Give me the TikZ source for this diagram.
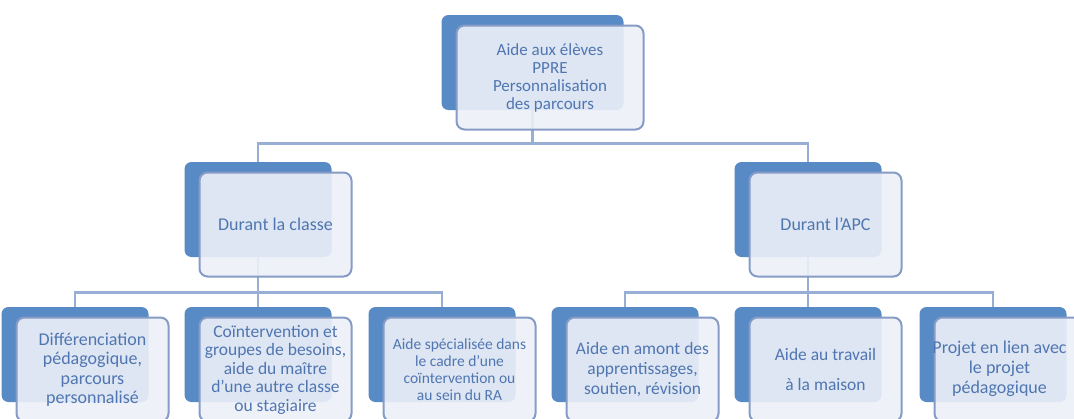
\documentclass[tikz,border=0pt]{standalone}
\usepackage{fontspec}
\setmainfont{Carlito}
\usepackage{tikz}
\usetikzlibrary{backgrounds}
\definecolor{backblue}{RGB}{88,138,198}
\definecolor{frontfill}{RGB}{236,240,247}
\definecolor{frontline}{RGB}{134,155,198}
\definecolor{linkblue}{RGB}{152,174,212}
\definecolor{textblue}{RGB}{80,118,178}
\tikzset{
  backbox/.style={fill=backblue, rounded corners=7pt, inner sep=0pt, minimum height=95pt},
  frontbox/.style={draw=frontline, line width=2pt, fill=frontfill, fill opacity=0.9,
    text opacity=1, text=textblue, rounded corners=8pt, inner sep=1pt, align=center,
    minimum height=104pt},
  link/.style={draw=linkblue, line width=2.6pt}
}
% #1 name, #2 x, #3 y, #4 width, #5 font size, #6 text
\newcommand{\stackbox}[6]{
  \node[backbox, minimum width=#4pt] (#1b) at (#2,#3) {};
  \node[frontbox, minimum width=#4pt+5pt, font=#5] (#1) at ([shift={(17.5,15)}]#1b.center) {#6};
}

\begin{document}
\begin{tikzpicture}[x=1pt,y=-1pt]
\useasboundingbox (0,0) rectangle (1074,418);

\stackbox{top}{532.5}{62.5}{182}{\fontsize{17}{18}\selectfont}{Aide aux élèves\\PPRE\\Personnalisation\\des parcours}

\stackbox{classe}{258}{209.5}{147}{\fontsize{18}{18}\selectfont}{Durant la classe}
\stackbox{apc}{808}{209.5}{147}{\fontsize{18}{18}\selectfont}{Durant l'APC}

\stackbox{diff}{75}{354.5}{147}{\fontsize{18}{19.5}\selectfont}{Différenciation\\pédagogique,\\parcours\\personnalisé}
\stackbox{coint}{258}{354.5}{147}{\fontsize{17.5}{18.5}\selectfont}{Coïntervention et\\groupes de besoins,\\aide du maître\\d'une autre classe\\ou stagiaire}
\stackbox{spec}{442}{354.5}{147}{\fontsize{15.5}{17}\selectfont}{Aide spécialisée dans\\le cadre d'une\\coïntervention ou\\au sein du RA}
\stackbox{amont}{625}{354.5}{147}{\fontsize{17.5}{20}\selectfont}{Aide en amont des\\apprentissages,\\soutien, révision}
\stackbox{maison}{808}{354.5}{147}{\fontsize{17.5}{18}\selectfont}{Aide au travail\\[12pt]à la maison}
% text runs past the page edge, so it sits a little to the left
\stackbox{projet}{993}{354.5}{147}{\fontsize{18}{20}\selectfont}{\makebox[0pt]{\begin{tabular}{@{}c@{}}Projet en lien avec\\le projet\\pédagogique\end{tabular}\hspace*{22pt}}}

\begin{scope}[on background layer]
  % top level
  \draw[link] (topb.south) -- ++(0,33) coordinate (j0);
  \foreach \n in {classe,apc}
    \draw[link] (j0) -| (\n b.north);
  % left group
  \draw[link] (classeb.south) -- ++(0,35) coordinate (j1);
  \foreach \n in {diff,coint,spec}
    \draw[link] (j1) -| (\n b.north);
  % right group
  \draw[link] (apcb.south) -- ++(0,35) coordinate (j2);
  \foreach \n in {amont,maison,projet}
    \draw[link] (j2) -| (\n b.north);
\end{scope}
\end{tikzpicture}
\end{document}
